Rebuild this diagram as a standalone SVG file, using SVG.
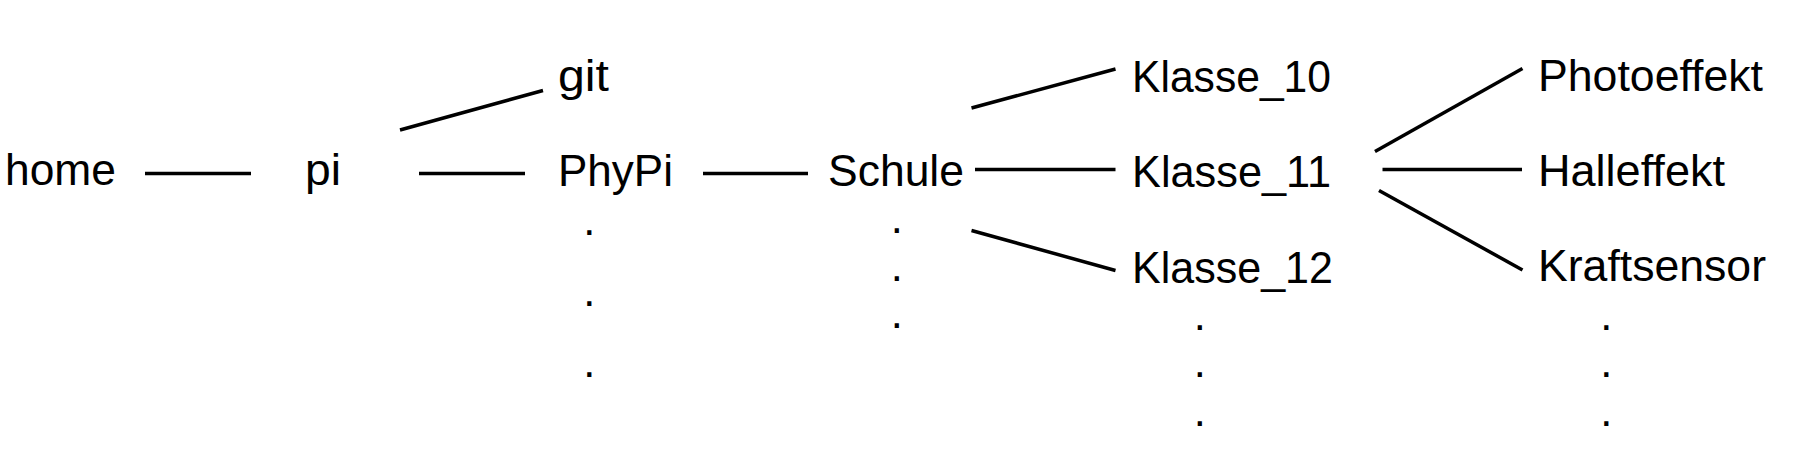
<svg xmlns="http://www.w3.org/2000/svg" width="1805" height="473" viewBox="0 0 1805 473">
<style>
text{font-family:"Liberation Sans",Arial,sans-serif;font-size:43.5px;fill:#000}
.d{text-anchor:middle}
line{stroke:#000;stroke-width:3.5;stroke-linecap:butt}
</style>
<rect width="1805" height="473" fill="#fff"/>
<g id="connectors">
<line x1="145" y1="173.5" x2="251" y2="173.5"/>
<line x1="419" y1="173.5" x2="525" y2="173.5"/>
<line x1="400" y1="130" x2="543" y2="90.5"/>
<line x1="703" y1="173.5" x2="808" y2="173.5"/>
<line x1="971.5" y1="108" x2="1115.5" y2="69"/>
<line x1="975" y1="169.5" x2="1115.5" y2="169.5"/>
<line x1="971.5" y1="230.5" x2="1115.5" y2="270.5"/>
<line x1="1375" y1="151.5" x2="1522.5" y2="68.5"/>
<line x1="1382.5" y1="169.5" x2="1522" y2="169.5"/>
<line x1="1379" y1="190.5" x2="1522.5" y2="270"/>
</g>
<g id="home"><text x="5" y="184.5" textLength="111" lengthAdjust="spacingAndGlyphs">home</text></g>
<g id="pi"><text x="305" y="185" textLength="36" lengthAdjust="spacingAndGlyphs">pi</text></g>
<g id="git"><text x="558" y="91" textLength="51" lengthAdjust="spacingAndGlyphs">git</text></g>
<g id="PhyPi"><text x="558" y="185.5" textLength="115" lengthAdjust="spacingAndGlyphs">PhyPi</text>
<text class="d" x="589.3" y="234.5">.</text><text class="d" x="589.3" y="305.5">.</text><text class="d" x="589.3" y="377">.</text></g>
<g id="Schule"><text x="828" y="185.5" textLength="136" lengthAdjust="spacingAndGlyphs">Schule</text>
<text class="d" x="896.7" y="233">.</text><text class="d" x="896.7" y="280.5">.</text><text class="d" x="896.7" y="328">.</text></g>
<g id="Klasse_10"><text x="1132" y="91.7" textLength="199" lengthAdjust="spacingAndGlyphs">Klasse_10</text></g>
<g id="Klasse_11"><text x="1132" y="187.3" textLength="199" lengthAdjust="spacingAndGlyphs">Klasse_11</text></g>
<g id="Klasse_12"><text x="1132" y="283.3" textLength="201" lengthAdjust="spacingAndGlyphs">Klasse_12</text>
<text class="d" x="1199.8" y="329.5">.</text><text class="d" x="1199.8" y="377">.</text><text class="d" x="1199.8" y="425.5">.</text></g>
<g id="Photoeffekt"><text x="1538" y="90.7" textLength="225" lengthAdjust="spacingAndGlyphs">Photoeffekt</text></g>
<g id="Halleffekt"><text x="1538" y="186" textLength="187" lengthAdjust="spacingAndGlyphs">Halleffekt</text></g>
<g id="Kraftsensor"><text x="1538" y="281" textLength="228" lengthAdjust="spacingAndGlyphs">Kraftsensor</text>
<text class="d" x="1606.4" y="329.5">.</text><text class="d" x="1606.4" y="377">.</text><text class="d" x="1606.4" y="425.5">.</text></g>
</svg>
